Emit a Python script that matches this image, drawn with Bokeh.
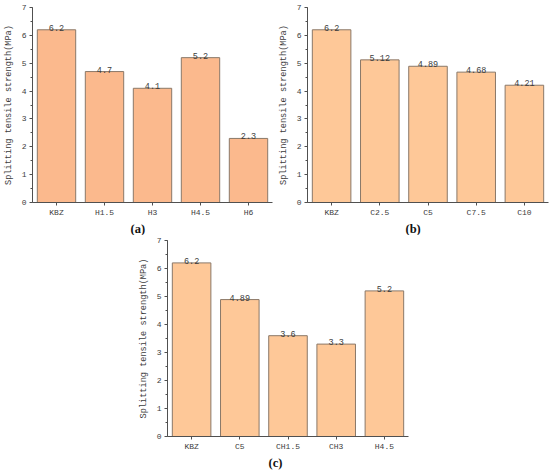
from bokeh.plotting import figure
from bokeh.layouts import column, row, Spacer
from bokeh.models import Range1d, FactorRange, SingleIntervalTicker, Title
from bokeh.core.properties import value
from bokeh.embed import file_html
from bokeh.resources import INLINE

# ---- data ----
cats_a = ["KBZ", "H1.5", "H3", "H4.5", "H6"]
vals_a = [6.2, 4.7, 4.1, 5.2, 2.3]
cats_b = ["KBZ", "C2.5", "C5", "C7.5", "C10"]
vals_b = [6.2, 5.12, 4.89, 4.68, 4.21]
cats_c = ["KBZ", "C5", "CH1.5", "CH3", "H4.5"]
vals_c = [6.2, 4.89, 3.6, 3.3, 5.2]
y_label = "Splitting tensile strength(MPa)"
panel_labels = ["(a)", "(b)", "(c)"]

FONT = "Liberation Mono"
TXT = "#3c3c3c"
AX = "#505050"
EDGE = "#8a7868"


def make_panel(cats, vals, fill, tag, tag_off, width, height, bl, bt, bb, br):
    p = figure(x_range=FactorRange(*cats), y_range=Range1d(0, 7),
               width=width, height=height, output_backend="svg",
               toolbar_location=None, min_border_left=bl, min_border_top=bt,
               min_border_bottom=bb, min_border_right=br)
    p.outline_line_color = None
    p.xgrid.grid_line_color = None
    p.ygrid.grid_line_color = None
    p.vbar(x=cats, top=vals, width=0.8, fill_color=fill, line_color=EDGE, line_width=1)
    p.text(x=cats, y=vals, text=[str(v) for v in vals], text_align="center",
           text_baseline="bottom", text_font=value(FONT), text_font_size="8.5px",
           text_color=TXT, y_offset=1)
    p.yaxis.ticker = SingleIntervalTicker(interval=1, num_minor_ticks=2)
    p.yaxis.axis_label = y_label
    for ax in (p.xaxis[0], p.yaxis[0]):
        ax.axis_line_color = AX
        ax.major_tick_line_color = AX
        ax.minor_tick_line_color = AX
        ax.major_tick_out = 3
        ax.major_tick_in = 0
        ax.minor_tick_out = 2
        ax.minor_tick_in = 0
        ax.major_label_text_font = FONT
        ax.major_label_text_font_size = "8px"
        ax.major_label_text_color = TXT
        ax.major_label_standoff = 3
        ax.axis_label_text_font = FONT
        ax.axis_label_text_font_size = "8.6px"
        ax.axis_label_text_font_style = "normal"
        ax.axis_label_text_color = TXT
        ax.axis_label_standoff = 5
    p.xaxis.major_label_standoff = 2
    p.add_layout(Title(text=tag, align="left", offset=tag_off,
                       text_font="Liberation Serif", text_font_size="12.5px",
                       text_font_style="bold", text_color="#111111",
                       standoff=0), "below")
    return p


pa = make_panel(cats_a, vals_a, "#FBB98D", panel_labels[0], 98, 275, 235, 28, 7, 32, 3)
pb = make_panel(cats_b, vals_b, "#FEC898", panel_labels[1], 98, 275, 235, 28, 7, 32, 2)
pc = make_panel(cats_c, vals_c, "#FEC898", panel_labels[2], 101, 275, 236, 28, 5, 35, 2)

layout = column(row(pa, pb), row(Spacer(width=135, height=236), pc))
open("out.html", "w").write(file_html(layout, INLINE))
